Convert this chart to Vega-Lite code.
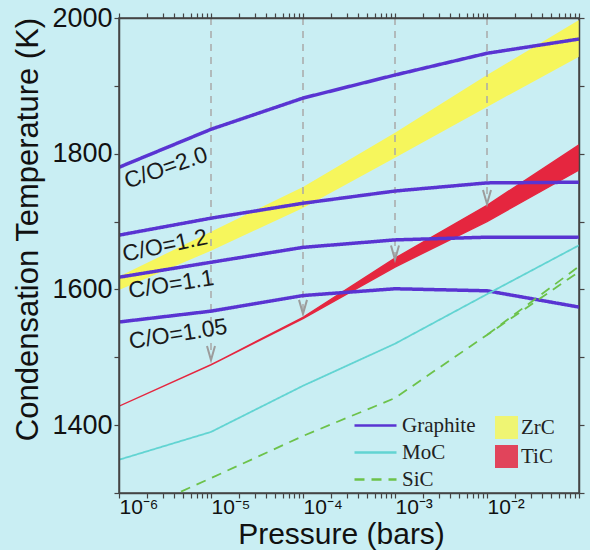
{
  "$schema": "https://vega.github.io/schema/vega-lite/v6.json",
  "width": 460,
  "height": 475,
  "autosize": {"type": "none"},
  "padding": {"left": 119, "top": 18, "right": 11, "bottom": 57},
  "background": "#c9eef3",
  "view": {"stroke": "#444", "strokeWidth": 1.5},
  "config": {"font": "Liberation Sans"},
  "datasets": {
    "lines": [
      {"s": "CO2.0", "mat": "Graphite", "P": 1e-6, "T": 1780},
      {"s": "CO2.0", "mat": "Graphite", "P": 1e-5, "T": 1836},
      {"s": "CO2.0", "mat": "Graphite", "P": 1e-4, "T": 1882},
      {"s": "CO2.0", "mat": "Graphite", "P": 1e-3, "T": 1916},
      {"s": "CO2.0", "mat": "Graphite", "P": 1e-2, "T": 1948},
      {"s": "CO2.0", "mat": "Graphite", "P": 1e-1, "T": 1969},
      {"s": "CO1.2", "mat": "Graphite", "P": 1e-6, "T": 1680},
      {"s": "CO1.2", "mat": "Graphite", "P": 1e-5, "T": 1705},
      {"s": "CO1.2", "mat": "Graphite", "P": 1e-4, "T": 1727},
      {"s": "CO1.2", "mat": "Graphite", "P": 1e-3, "T": 1745},
      {"s": "CO1.2", "mat": "Graphite", "P": 1e-2, "T": 1757},
      {"s": "CO1.2", "mat": "Graphite", "P": 1e-1, "T": 1758},
      {"s": "CO1.1", "mat": "Graphite", "P": 1e-6, "T": 1618},
      {"s": "CO1.1", "mat": "Graphite", "P": 1e-5, "T": 1640},
      {"s": "CO1.1", "mat": "Graphite", "P": 1e-4, "T": 1662},
      {"s": "CO1.1", "mat": "Graphite", "P": 1e-3, "T": 1673},
      {"s": "CO1.1", "mat": "Graphite", "P": 1e-2, "T": 1677},
      {"s": "CO1.1", "mat": "Graphite", "P": 1e-1, "T": 1677},
      {"s": "CO1.05", "mat": "Graphite", "P": 1e-6, "T": 1552},
      {"s": "CO1.05", "mat": "Graphite", "P": 1e-5, "T": 1568},
      {"s": "CO1.05", "mat": "Graphite", "P": 1e-4, "T": 1591},
      {"s": "CO1.05", "mat": "Graphite", "P": 1e-3, "T": 1601},
      {"s": "CO1.05", "mat": "Graphite", "P": 1e-2, "T": 1598},
      {"s": "CO1.05", "mat": "Graphite", "P": 1e-1, "T": 1574},
      {"s": "MoC", "mat": "MoC", "P": 1e-6, "T": 1349},
      {"s": "MoC", "mat": "MoC", "P": 1e-5, "T": 1390},
      {"s": "MoC", "mat": "MoC", "P": 1e-4, "T": 1458},
      {"s": "MoC", "mat": "MoC", "P": 1e-3, "T": 1520},
      {"s": "MoC", "mat": "MoC", "P": 1e-2, "T": 1593},
      {"s": "MoC", "mat": "MoC", "P": 1e-1, "T": 1665},
      {"s": "SiC", "mat": "SiC", "P": 1e-6, "T": 1261},
      {"s": "SiC", "mat": "SiC", "P": 1e-5, "T": 1322},
      {"s": "SiC", "mat": "SiC", "P": 1e-4, "T": 1384},
      {"s": "SiC", "mat": "SiC", "P": 1e-3, "T": 1440},
      {"s": "SiC", "mat": "SiC", "P": 1e-2, "T": 1533},
      {"s": "SiC", "mat": "SiC", "P": 1e-1, "T": 1626},
      {"s": "SiC2", "mat": "SiC", "P": 1e-2, "T": 1533},
      {"s": "SiC2", "mat": "SiC", "P": 1e-1, "T": 1634}
    ],
    "bands": [
      {"mat": "ZrC", "P": 1e-6, "hi": 1619, "lo": 1599},
      {"mat": "ZrC", "P": 1e-5, "hi": 1685, "lo": 1657},
      {"mat": "ZrC", "P": 1e-4, "hi": 1751, "lo": 1720},
      {"mat": "ZrC", "P": 1e-3, "hi": 1831, "lo": 1794},
      {"mat": "ZrC", "P": 1e-2, "hi": 1916, "lo": 1869},
      {"mat": "ZrC", "P": 1e-1, "hi": 1997, "lo": 1943},
      {"mat": "TiC", "P": 1e-6, "hi": 1428, "lo": 1428},
      {"mat": "TiC", "P": 1e-5, "hi": 1489, "lo": 1489},
      {"mat": "TiC", "P": 1e-4, "hi": 1559, "lo": 1557},
      {"mat": "TiC", "P": 1e-3, "hi": 1646, "lo": 1633},
      {"mat": "TiC", "P": 1e-2, "hi": 1724, "lo": 1700},
      {"mat": "TiC", "P": 1e-1, "hi": 1813, "lo": 1776}
    ],
    "arrows": [
      {"P": 1e-5, "top": 2000, "tip": 1496},
      {"P": 1e-4, "top": 2000, "tip": 1564},
      {"P": 1e-3, "top": 2000, "tip": 1644},
      {"P": 1e-2, "top": 2000, "tip": 1726}
    ],
    "labels": [
      {"lab": "C/O=2.0", "P": 3.24e-6, "T": 1779},
      {"lab": "C/O=1.2", "P": 3.16e-6, "T": 1664},
      {"lab": "C/O=1.1", "P": 3.7e-6, "T": 1607},
      {"lab": "C/O=1.05", "P": 4.4e-6, "T": 1534}
    ]
  },
  "resolve": {"axis": {"x": "independent", "y": "independent"}},
  "layer": [
    {
      "layer": [
        {
          "data": {"name": "bands"},
          "transform": [{"filter": "datum.mat == 'ZrC'"}],
          "mark": {"type": "area", "clip": true},
          "encoding": {
            "x": {"field": "P", "type": "quantitative",
              "scale": {"type": "log", "domain": [1e-6, 0.1], "nice": false},
              "axis": {"orient": "bottom", "zindex": 1,
                "values": [1e-6,2e-6,3e-6,4e-6,5e-6,6e-6,7e-6,8e-6,9e-6,1e-5,2e-5,3e-5,4e-5,5e-5,6e-5,7e-5,8e-5,9e-5,1e-4,2e-4,3e-4,4e-4,5e-4,6e-4,7e-4,8e-4,9e-4,1e-3,2e-3,3e-3,4e-3,5e-3,6e-3,7e-3,8e-3,9e-3,1e-2,2e-2,3e-2,4e-2,5e-2,6e-2,7e-2,8e-2,9e-2,0.1],
                "labelExpr": "(abs(log(datum.value)/LN10 - round(log(datum.value)/LN10)) < 0.001 && round(log(datum.value)/LN10) < -1.5) ? '10' + ['⁰','⁻¹','⁻²','⁻³','⁻⁴','⁻⁵','⁻⁶'][-round(log(datum.value)/LN10)] : ''",
                "labelFontSize": 21, "labelColor": "#111", "labelAlign": "left", "labelDx": -5, "labelPadding": -2,
                "labelOverlap": false, "labelFlush": false, "labelBound": false,
                "tickSize": 5, "tickColor": "#444", "tickWidth": 1.2, "domainColor": "#444", "domainWidth": 1.5, "grid": false,
                "title": "Pressure (bars)", "titleFontSize": 30, "titleFontWeight": "normal", "titleColor": "#111",
                "titleX": 222, "titleY": 50, "titleBaseline": "alphabetic", "titleAlign": "center"}},
            "y": {"field": "hi", "type": "quantitative",
              "scale": {"domain": [1300, 2000], "nice": false, "zero": false},
              "axis": {"orient": "left", "zindex": 1,
                "values": [1300,1400,1500,1600,1700,1800,1900,2000], "format": "d",
                "labelExpr": "datum.value % 200 == 0 ? datum.label : ''",
                "labelFontSize": 27, "labelColor": "#111", "labelPadding": 2, "labelOverlap": false, "labelFlush": false,
                "tickSize": 5, "tickColor": "#444", "tickWidth": 1.2, "domainColor": "#444", "domainWidth": 1.5, "grid": false,
                "title": "Condensation Temperature (K)", "titleFontSize": 31, "titleFontWeight": "normal", "titleColor": "#111",
                "titleX": -82, "titleY": 211, "titleBaseline": "alphabetic"}},
            "y2": {"field": "lo"},
            "fill": {"field": "mat", "type": "nominal",
              "scale": {"domain": ["ZrC", "TiC"], "range": ["#f6f65c", "#e5263f"]},
              "legend": {"orient": "none", "legendX": 376, "legendY": 398, "title": null, "padding": 0,
                "symbolType": "square", "symbolSize": 529, "symbolOpacity": 0.85, "symbolStrokeWidth": 0,
                "labelFont": "Liberation Serif", "labelFontSize": 21, "labelColor": "#222", "labelOffset": 3, "rowPadding": 6}}
          }
        },
        {
          "data": {"name": "bands"},
          "transform": [{"filter": "datum.mat == 'TiC'"}],
          "mark": {"type": "area", "stroke": "#e5263f", "strokeWidth": 1.4, "clip": true},
          "encoding": {
            "x": {"field": "P", "type": "quantitative"},
            "y": {"field": "hi", "type": "quantitative"},
            "y2": {"field": "lo"},
            "fill": {"field": "mat", "type": "nominal"}
          }
        },
        {
          "data": {"name": "arrows"},
          "mark": {"type": "rule", "color": "#a9a9a9", "strokeWidth": 1.5, "strokeDash": [7, 6]},
          "encoding": {
            "x": {"field": "P", "type": "quantitative"},
            "y": {"field": "top", "type": "quantitative"},
            "y2": {"field": "tip"}
          }
        },
        {
          "data": {"name": "lines"},
          "mark": {"type": "line", "clip": true},
          "encoding": {
            "x": {"field": "P", "type": "quantitative"},
            "y": {"field": "T", "type": "quantitative"},
            "detail": {"field": "s", "type": "nominal"},
            "stroke": {"field": "mat", "type": "nominal",
              "scale": {"domain": ["Graphite", "MoC", "SiC"], "range": ["#5934d2", "#62d4d2", "#6cc24a"]},
              "legend": {"orient": "none", "legendX": 245, "legendY": 396, "title": null, "padding": 0,
                "symbolType": "M-2.1,0H2.1", "symbolSize": 400, "symbolStrokeWidth": 2.5,
                "labelFont": "Liberation Serif", "labelFontSize": 21, "labelColor": "#222", "labelOffset": 15, "rowPadding": 5}},
            "strokeDash": {"field": "mat", "type": "nominal",
              "scale": {"domain": ["Graphite", "MoC", "SiC"], "range": [[1, 0], [1, 0], [10, 7]]},
              "legend": {"orient": "none", "legendX": 245, "legendY": 396, "title": null, "padding": 0,
                "symbolType": "M-2.1,0H2.1", "symbolSize": 400, "symbolStrokeWidth": 2.5,
                "labelFont": "Liberation Serif", "labelFontSize": 21, "labelColor": "#222", "labelOffset": 15, "rowPadding": 5}},
            "strokeWidth": {"condition": {"test": "datum.mat == 'Graphite'", "value": 3.5}, "value": 1.8}
          }
        },
        {
          "data": {"name": "arrows"},
          "mark": {"type": "point", "shape": "M-1,-3.5L0,0L1,-3.5", "size": 64, "filled": false, "stroke": "#9c9c9c", "strokeWidth": 2, "opacity": 1},
          "encoding": {
            "x": {"field": "P", "type": "quantitative"},
            "y": {"field": "tip", "type": "quantitative"}
          }
        },
        {
          "data": {"name": "labels"},
          "transform": [{"filter": "datum.lab == 'C/O=2.0'"}],
          "mark": {"type": "text", "angle": 341, "fontSize": 23, "font": "Liberation Sans", "color": "#1a1a1a", "align": "center", "baseline": "middle"},
          "encoding": {
            "x": {"field": "P", "type": "quantitative"},
            "y": {"field": "T", "type": "quantitative"},
            "text": {"field": "lab", "type": "nominal"}
          }
        },
        {
          "data": {"name": "labels"},
          "transform": [{"filter": "datum.lab == 'C/O=1.2'"}],
          "mark": {"type": "text", "angle": 348, "fontSize": 23, "font": "Liberation Sans", "color": "#1a1a1a", "align": "center", "baseline": "middle"},
          "encoding": {
            "x": {"field": "P", "type": "quantitative"},
            "y": {"field": "T", "type": "quantitative"},
            "text": {"field": "lab", "type": "nominal"}
          }
        },
        {
          "data": {"name": "labels"},
          "transform": [{"filter": "datum.lab == 'C/O=1.1'"}],
          "mark": {"type": "text", "angle": 351, "fontSize": 23, "font": "Liberation Sans", "color": "#1a1a1a", "align": "center", "baseline": "middle"},
          "encoding": {
            "x": {"field": "P", "type": "quantitative"},
            "y": {"field": "T", "type": "quantitative"},
            "text": {"field": "lab", "type": "nominal"}
          }
        },
        {
          "data": {"name": "labels"},
          "transform": [{"filter": "datum.lab == 'C/O=1.05'"}],
          "mark": {"type": "text", "angle": 351, "fontSize": 23, "font": "Liberation Sans", "color": "#1a1a1a", "align": "center", "baseline": "middle"},
          "encoding": {
            "x": {"field": "P", "type": "quantitative"},
            "y": {"field": "T", "type": "quantitative"},
            "text": {"field": "lab", "type": "nominal"}
          }
        }
      ]
    },
    {
      "data": {"name": "arrows"},
      "mark": {"type": "point", "opacity": 0},
      "encoding": {
        "x": {"field": "P", "type": "quantitative",
          "axis": {"orient": "top", "zindex": 1, "labels": false, "title": null, "grid": false,
            "values": [1e-6,2e-6,3e-6,4e-6,5e-6,6e-6,7e-6,8e-6,9e-6,1e-5,2e-5,3e-5,4e-5,5e-5,6e-5,7e-5,8e-5,9e-5,1e-4,2e-4,3e-4,4e-4,5e-4,6e-4,7e-4,8e-4,9e-4,1e-3,2e-3,3e-3,4e-3,5e-3,6e-3,7e-3,8e-3,9e-3,1e-2,2e-2,3e-2,4e-2,5e-2,6e-2,7e-2,8e-2,9e-2,0.1],
            "tickSize": 5, "tickColor": "#444", "tickWidth": 1.2, "domainColor": "#444", "domainWidth": 1.5}},
        "y": {"field": "tip", "type": "quantitative",
          "axis": {"orient": "right", "zindex": 1, "labels": false, "title": null, "grid": false,
            "values": [1300,1400,1500,1600,1700,1800,1900,2000],
            "tickSize": 5, "tickColor": "#444", "tickWidth": 1.2, "domainColor": "#444", "domainWidth": 1.5}}
      }
    }
  ]
}
